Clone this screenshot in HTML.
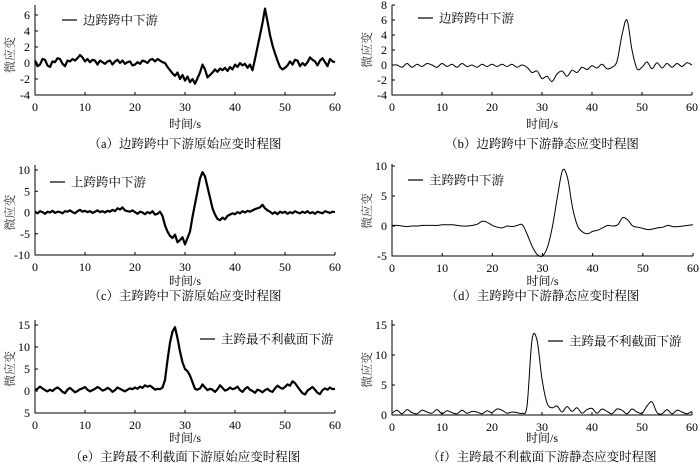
<!DOCTYPE html>
<html><head><meta charset="utf-8">
<style>
body{margin:0;background:#fff;}
svg{display:block;font-family:"Liberation Serif","Noto Serif CJK SC",serif;}
</style></head>
<body>
<svg id="chart" width="700" height="465" viewBox="0 0 700 465" xmlns="http://www.w3.org/2000/svg"></svg>
<script>
const timeRaw = Array.from({length:121},(_,i)=>i*0.5);
const timeSmooth = Array.from({length:61},(_,i)=>i);
const seriesA = [0.3,-0.4,-0.2,0.5,0.4,-0.3,-0.5,0.2,0.1,0.6,
0.5,-0.1,-0.4,0.3,0.2,0.5,0.3,0.6,1.0,0.7,
0.2,0.5,0.1,0.4,0.3,-0.2,0.3,0.1,-0.1,0.2,
0.3,-0.2,0.2,0.4,0.0,0.3,-0.1,0.1,0.2,-0.3,
-0.2,0.1,-0.1,0.3,0.2,0.0,0.4,0.5,0.2,0.5,
0.3,0.1,0.0,-0.5,-0.9,-1.3,-1.6,-1.2,-2.0,-1.5,
-2.2,-1.7,-2.4,-2.0,-2.6,-1.9,-1.2,-0.2,-0.8,-1.8,
-1.5,-1.2,-0.8,-1.1,-0.7,-0.9,-0.6,-1.0,-0.5,-0.8,
-0.2,-0.5,0.0,-0.3,-0.1,-0.6,-0.2,-0.9,0.5,2.0,
3.5,5.0,6.8,5.2,3.5,2.2,1.2,0.3,-0.5,-0.8,
-0.6,-0.3,0.2,-0.2,0.4,0.3,-0.4,0.0,-0.3,0.1,
0.7,0.4,0.2,-0.3,0.3,0.6,0.1,-0.4,0.5,0.2,0.1];
const seriesB = [0,0,-0.3,0.2,-0.3,0.1,-0.2,0.2,0,-0.3,0.2,-0.2,0.1,-0.3,0.2,-0.2,0,-0.3,0.1,-0.2,0.1,
-0.2,0.1,-0.2,0.1,-0.3,0,-0.3,-1.0,-0.8,-1.8,-1.5,-2.2,-1.2,-0.8,-1.5,-0.7,-1.0,-0.3,-0.6,-0.1,
-0.4,0.1,-0.5,-0.3,0.5,4.0,6.0,2.0,-0.5,-0.3,0.4,-0.5,0.3,-0.4,0.2,-0.3,0.2,-0.2,0.3,0];
const seriesC = [0.2,-0.2,0.3,0.1,-0.3,0.2,0.0,0.4,-0.1,0.2,
0.1,-0.2,0.3,0.2,0.5,0.1,-0.2,0.3,0.6,0.2,
0.4,0.1,0.3,-0.1,0.2,0.5,0.1,0.3,0.0,0.4,
0.2,0.6,0.3,1.0,0.7,1.2,0.5,0.3,0.2,0.5,
0.1,-0.3,0.2,0.0,-0.4,0.1,-0.2,0.3,-0.5,-0.3,
0.2,-0.8,-3.0,-4.5,-5.5,-6.0,-5.2,-7.0,-6.5,-5.8,
-7.5,-6.0,-4.5,-1.0,2.0,5.0,8.0,9.5,8.5,6.0,
3.5,1.0,-0.5,-1.5,-1.8,-1.2,-1.6,-0.8,-0.5,-0.2,
-0.4,0.1,-0.2,0.3,0.0,0.4,0.2,0.5,0.8,1.0,
1.2,1.8,1.0,0.5,0.2,-0.3,0.1,-0.4,0.2,-0.1,
0.2,-0.3,0.1,-0.2,0.3,0.0,-0.2,0.2,-0.1,0.3,
-0.2,0.1,-0.3,0.2,0.0,-0.2,0.3,0.1,-0.1,0.2,0.1];
const seriesD = [0.1,0.1,0,-0.1,0,0,0.1,0.1,0.1,0.1,0.2,0.2,0.2,0.1,0,0,0.1,0.3,0.8,0.6,0.1,
-0.2,-0.3,0,-0.1,0.1,0.2,-1.5,-3.5,-4.8,-5,-3.5,0,5,9.3,8,3,0,-1.0,-1.3,-0.9,
-0.7,-0.3,0.1,0,0.2,1.4,1.0,0,-0.2,-0.4,-0.6,-0.5,-0.3,-0.2,0.1,-0.1,-0.1,0,0.1,0.2];
const seriesE = [0.2,0.5,1.0,0.6,0.2,-0.1,0.3,0.0,0.5,0.8,
0.4,-0.2,-0.5,0.3,0.7,0.2,-0.3,0.0,0.4,0.6,
0.9,0.3,-0.1,0.2,0.5,0.9,0.6,0.1,0.3,0.7,
0.4,-0.2,0.2,0.8,0.5,0.2,-0.1,0.3,0.6,0.4,
0.8,0.5,1.0,0.7,1.3,1.0,1.2,0.8,0.3,0.5,
0.4,0.8,2.5,7.0,11.0,13.5,14.5,12.0,9.0,6.5,
5.0,4.5,3.5,2.0,0.5,0.3,0.6,1.5,0.8,0.2,
0.5,0.3,-0.2,0.4,1.3,0.7,0.1,0.3,0.8,0.4,
0.6,1.0,0.2,-0.2,0.5,0.9,0.3,0.0,-0.4,0.3,
0.1,-0.3,0.2,0.5,0.0,-0.2,0.6,1.2,0.8,0.5,
0.9,1.5,1.2,2.2,1.8,1.0,0.2,-0.5,-0.8,0.1,
0.5,0.9,0.3,-0.4,-0.7,0.2,0.6,0.3,0.8,0.4,0.5];
const seriesF = [0.3,0.8,0.2,0.9,0.4,0.2,0.8,0.5,0.3,0.9,0.2,0.7,0.4,0.2,0.8,0.3,0.6,0.5,0.2,0.7,0.4,
1.0,0.8,0.3,0.5,0.4,0.3,1.5,12.5,12.5,6,2,1.2,1.5,0.5,1.4,0.6,1.2,0.3,0.9,1.1,
0.3,1.0,0.6,0.2,1.0,0.8,0.2,1.0,0.5,0.3,1.5,2.2,0.4,0.2,0.9,0.2,0.8,0.5,0.2,0.6];
const xTicks = [0,10,20,30,40,50,60];
const yTicksA = [-4,-2,0,2,4,6];
const yTicksB = [-4,-2,0,2,4,6,8];
const yTicksC = [-10,-5,0,5,10];
const yTicksD = [-5,0,5,10];
const yTicksE = [-5,0,5,10,15];
const yTicksEL = ["5","0","5","10","15"];
const yTicksF = [0,5,10,15];

const NS="http://www.w3.org/2000/svg";
const svg=document.getElementById('chart');
function mk(tag,attrs,parent){const e=document.createElementNS(NS,tag);for(const k in attrs)e.setAttribute(k,attrs[k]);(parent||svg).appendChild(e);return e;}

const panels=[
 {id:'a',x0:35,x1:335,yBot:95,ymin:-4,ymax:6,ytT:15,ticks:yTicksA,t:timeRaw,v:seriesA,smooth:false,leg:[62,20],legText:'边跨跨中下游',cap:'（a）边跨跨中下游原始应变时程图',capY:148,xlY:128,axTop:5},
 {id:'b',x0:392,x1:692,yBot:95,ymin:-4,ymax:8,ytT:5,ticks:yTicksB,t:timeSmooth,v:seriesB,smooth:true,leg:[418,18],legText:'边跨跨中下游',cap:'（b）边跨跨中下游静态应变时程图',capY:148,xlY:128,axTop:5},
 {id:'c',x0:35,x1:335,yBot:255,ymin:-10,ymax:10,ytT:170,ticks:yTicksC,t:timeRaw,v:seriesC,smooth:false,leg:[50,182],legText:'上跨跨中下游',cap:'（c）主跨跨中下游原始应变时程图',capY:300,xlY:285,axTop:165},
 {id:'d',x0:392,x1:693,yBot:256,ymin:-5,ymax:10,ytT:166,ticks:yTicksD,t:timeSmooth,v:seriesD,smooth:true,leg:[408,180],legText:'主跨跨中下游',cap:'（d）主跨跨中下游静态应变时程图',capY:300,xlY:285,axTop:164},
 {id:'e',x0:35,x1:335,yBot:413,ymin:-5,ymax:15,ytT:325,ticks:yTicksE,labels:yTicksEL,t:timeRaw,v:seriesE,smooth:false,leg:[200,339],legText:'主跨最不利截面下游',cap:'（e）主跨最不利截面下游原始应变时程图',capY:461,xlY:442,axTop:320},
 {id:'f',x0:392,x1:692,yBot:415,ymin:0,ymax:15,ytT:325,ticks:yTicksF,t:timeSmooth,v:seriesF,smooth:true,leg:[548,341],legText:'主跨最不利截面下游',cap:'（f）主跨最不利截面下游静态应变时程图',capY:461,xlY:442,axTop:320}
];

panels.forEach(p=>{
 const g=mk('g',{});
 
 
 const xs=t=>p.x0+(t-0)/60*(p.x1-p.x0);
 const ys=v=>p.yBot-(v-p.ymin)/(p.ymax-p.ymin)*(p.yBot-p.ytT);
 const ax=mk('path',{d:`M${p.x0},${p.axTop}V${p.yBot}H${p.x1}`,fill:'none',stroke:'#000','stroke-width':1},g);
 
 
 xTicks.forEach(t=>{
  mk('line',{x1:xs(t),x2:xs(t),y1:p.yBot,y2:p.yBot-3,stroke:'#000'},g);
  const tx=mk('text',{x:xs(t),y:p.yBot+16,'text-anchor':'middle','font-size':12},g);
  tx.textContent=t;
  
  
 });
 p.ticks.forEach((v,i)=>{
  mk('line',{x1:p.x0,x2:p.x0+3,y1:ys(v),y2:ys(v),stroke:'#000'},g);
  const tx=mk('text',{x:p.x0-5,y:ys(v)+4,'text-anchor':'end','font-size':12},g);
  tx.textContent=p.labels?p.labels[i]:v;
  
  
 });
 const yl=mk('text',{x:0,y:0,'font-size':12,fill:'#333','text-anchor':'middle',transform:`translate(${p.x0-21},${(p.ytT+p.yBot)/2}) rotate(-90)`},g);
 yl.textContent='微应变';
 
 
 const xl=mk('text',{x:(p.x0+p.x1)/2,y:p.xlY,'text-anchor':'middle','font-size':12},g);
 xl.textContent='时间/s';
 
 
 const cp=mk('text',{x:(p.x0+p.x1)/2,y:p.capY,'text-anchor':'middle','font-size':12.5},g);
 cp.textContent=p.cap;
 
 
 const pts=p.t.map((t,i)=>[xs(t),ys(p.v[i])]);
 let d;
 if(p.smooth){
  d=`M${pts[0][0]},${pts[0][1]}`;
  for(let i=0;i<pts.length-1;i++){
   const p0=pts[Math.max(0,i-1)],p1=pts[i],p2=pts[i+1],p3=pts[Math.min(pts.length-1,i+2)];
   d+=`C${p1[0]+(p2[0]-p0[0])/6},${p1[1]+(p2[1]-p0[1])/6} ${p2[0]-(p3[0]-p1[0])/6},${p2[1]-(p3[1]-p1[1])/6} ${p2[0]},${p2[1]}`;
  }
 } else {
  d='M'+pts.map(q=>q[0].toFixed(1)+','+q[1].toFixed(1)).join('L');
 }
 const ln=mk('path',{d:d,fill:'none',stroke:'#000','stroke-width':p.smooth?1:2.2,'stroke-linejoin':'round'},g);
 
 
 const lg=mk('g',{},g);
 
 
 mk('line',{x1:p.leg[0],x2:p.leg[0]+15,y1:p.leg[1],y2:p.leg[1],stroke:'#000','stroke-width':1.2},lg);
 const lt=mk('text',{x:p.leg[0]+21,y:p.leg[1]+4.5,'font-size':12.5},lg);
 lt.textContent=p.legText;
});
</script>
</body></html>
